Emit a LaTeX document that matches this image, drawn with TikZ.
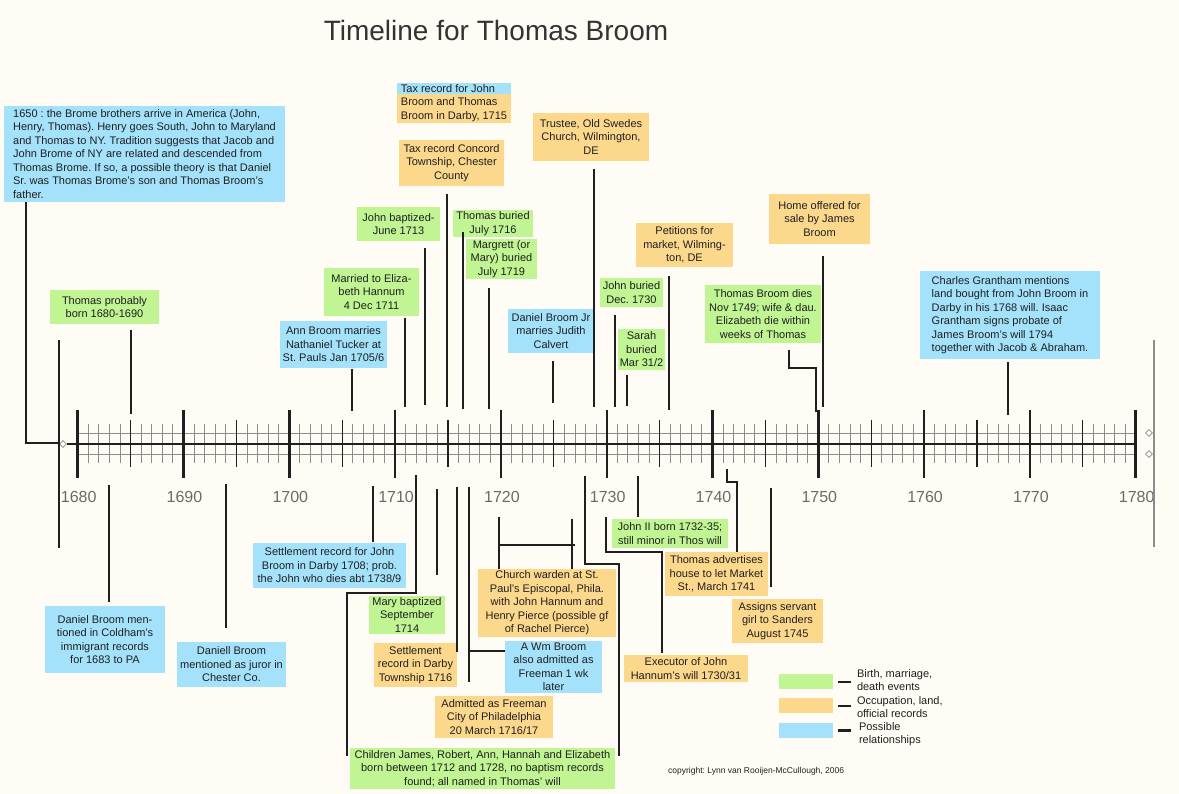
\documentclass[tikz,border=0pt]{standalone}
\usepackage{fontspec}
\setmainfont{Liberation Sans}
\usetikzlibrary{shapes.geometric}
\frenchspacing

\definecolor{pagebg}{HTML}{FEFCF4}
\definecolor{evgreen}{HTML}{C1F492}
\definecolor{evorange}{HTML}{FCD88D}
\definecolor{evblue}{HTML}{A4E2FB}
\definecolor{inkc}{HTML}{1F1F1F}
\definecolor{yearc}{HTML}{6A6A6A}
\definecolor{gridc}{HTML}{8C8C8C}
\definecolor{titlec}{HTML}{333333}

\newcommand{\evfont}{\fontsize{11}{13.5}\selectfont}

% event box from its two corners: name, style, x1, y1, x2, y2, text
\newcommand{\evbox}[7]{%
  \pgfmathsetmacro{\evw}{#5-#3}%
  \pgfmathsetmacro{\evh}{#6-#4}%
  \pgfmathsetmacro{\evx}{(#3+#5)/2}%
  \pgfmathsetmacro{\evy}{(#4+#6)/2}%
  \node[#2, minimum width=\evw pt, minimum height=\evh pt] (#1) at (\evx,\evy) {#7};%
}

\tikzset{
  ev/.style={inner sep=0pt, outer sep=0pt, align=center, text=inkc, font=\evfont},
  gbox/.style={ev, fill=evgreen},
  obox/.style={ev, fill=evorange},
  bbox/.style={ev, fill=evblue},
  link/.style={draw=inkc, line width=2pt},
  thinlink/.style={draw=inkc, line width=1.2pt},
  minortick/.style={draw=gridc, line width=0.9pt},
  midtick/.style={draw=inkc, line width=1.3pt},
  majtick/.style={draw=inkc, line width=2.4pt},
  endtick/.style={draw=inkc, line width=3pt},
  yearlbl/.style={text=yearc, font=\fontsize{16}{18}\selectfont, inner sep=0pt},
  knob/.style={diamond, draw=gridc, fill=white, line width=0.8pt, inner sep=0pt, minimum size=7pt},
}

\begin{document}
\begin{tikzpicture}[x=1pt,y=-1pt]
\useasboundingbox[fill=pagebg] (0,0) rectangle (1179,794);

% title
\node[font=\fontsize{28}{32}\selectfont, text=titlec] (title) at (496,30) {Timeline for Thomas Broom};

% ---------------- time axis ----------------
\draw[minortick] (78,433) -- (1136,433);
\draw[minortick] (78,454) -- (1136,454);
\foreach \i in {1,...,99}
  \draw[minortick] ({77.7+10.58*\i},424) -- ({77.7+10.58*\i},463);
\node[knob] (dL) at (63,444) {};
\coordinate (axR) at (1136,444);
\draw[draw=inkc, line width=1.3pt] (dL.east) -- (axR);
\foreach \i in {5,15,...,95}
  \draw[midtick] ({77.7+10.58*\i},420) -- ({77.7+10.58*\i},467);
\foreach \i in {10,20,...,90}
  \draw[majtick] ({77.7+10.58*\i},410) -- ({77.7+10.58*\i},478);
\draw[endtick] (77.7,410) -- (77.7,478);
\draw[endtick] (1135.7,410) -- (1135.7,478);
\foreach \yr in {1680,1690,...,1780}
  \node[yearlbl] (y\yr) at ({78.7+10.58*(\yr-1680)},497) {\yr};

% left and right end bars
\coordinate (lvTop) at (59,340);
\coordinate (lvBot) at (59,548);
\draw[link] (lvTop) -- (lvBot);
\coordinate (rvTop) at (1154,340);
\coordinate (rvBot) at (1154,547);
\draw[gridc, line width=1.2pt] (rvTop) -- (rvBot);
\node[knob] (dR1) at (1149,433) {};
\node[knob] (dR2) at (1149,454) {};

% ---------------- events above the axis ----------------
\evbox{origins}{bbox, align=left}{4}{106}{285}{202}{1650 : the Brome brothers arrive in America (John,\\Henry, Thomas). Henry goes South, John to Maryland\\and Thomas to NY. Tradition suggests that Jacob and\\John Brome of NY are related and descended from\\Thomas Brome. If so, a possible theory is that Daniel\\Sr. was Thomas Brome's son and Thomas Broom's\\father.}
\evbox{born}{gbox}{50}{290}{159}{324}{Thomas probably\\born 1680-1690}
\evbox{ann}{bbox}{280}{321}{387}{368}{Ann Broom marries\\Nathaniel Tucker at\\St. Pauls Jan 1705/6}
\evbox{married}{gbox}{324}{268}{419}{316}{Married to Eliza-\\beth Hannum\\4 Dec 1711}
\evbox{johnbap}{gbox}{357}{207}{440}{241}{John baptized-\\June 1713}
\evbox{concord}{obox}{399}{140}{504}{186}{Tax record Concord\\Township, Chester\\County}
\evbox{taxdarby}{obox, align=left, path picture={\fill[evblue] (path picture bounding box.north west) rectangle ([yshift=-11pt]path picture bounding box.north east);}}{397}{83}{511}{123}{Tax record for John\\Broom and Thomas\\Broom in Darby, 1715}
\evbox{tburied}{gbox}{453}{210}{533}{237}{Thomas buried\\July 1716}
\evbox{margrett}{gbox}{466}{239}{537}{279}{Margrett (or\\Mary) buried\\July 1719}
\evbox{danieljr}{bbox}{508}{309}{594}{353}{Daniel Broom Jr\\marries Judith\\Calvert}
\evbox{trustee}{obox}{533}{113}{649}{161}{Trustee, Old Swedes\\Church, Wilmington,\\DE}
\evbox{johnbur}{gbox}{600}{278}{663}{307}{John buried\\Dec. 1730}
\evbox{sarah}{gbox}{618}{329}{665}{370}{Sarah\\buried\\Mar 31/2}
\evbox{petitions}{obox}{636}{223}{733}{267}{Petitions for\\market, Wilming-\\ton, DE}
\evbox{tdies}{gbox}{705}{285}{821}{343}{Thomas Broom dies\\Nov 1749; wife \& dau.\\Elizabeth die within\\weeks of Thomas}
\evbox{home}{obox}{769}{194}{870}{244}{Home offered for\\sale by James\\Broom}
\evbox{charles}{bbox, align=left}{920}{271}{1100}{359}{Charles Grantham mentions\\land bought from John Broom in\\Darby in his 1768 will. Isaac\\Grantham signs probate of\\James Broom's will 1794\\together with Jacob \& Abraham.}

% ---------------- events below the axis ----------------
\evbox{coldham}{bbox}{45}{606}{165}{673}{Daniel Broom men-\\tioned in Coldham's\\immigrant records\\for 1683 to PA}
\evbox{juror}{bbox}{177}{642}{286}{687}{Daniell Broom\\mentioned as juror in\\Chester Co.}
\evbox{settle08}{bbox}{253}{543}{406}{588}{Settlement record for John\\Broom in Darby 1708; prob.\\the John who dies abt 1738/9}
\evbox{marybap}{gbox}{369}{596}{445}{634}{Mary baptized\\September\\1714}
\evbox{settle16}{obox}{374}{643}{457}{687}{Settlement\\record in Darby\\Township 1716}
\evbox{wm}{bbox}{505}{641}{602}{693}{A Wm Broom\\also admitted as\\Freeman 1 wk\\later}
\evbox{freeman}{obox}{435}{696}{553}{738}{Admitted as Freeman\\City of Philadelphia\\20 March 1716/17}
\evbox{children}{gbox}{350}{748}{615}{789}{Children James, Robert, Ann, Hannah and Elizabeth\\born between 1712 and 1728, no baptism records\\found; all named in Thomas' will}
\evbox{church}{obox}{478}{569}{616}{637}{Church warden at St.\\Paul's Episcopal, Phila.\\with John Hannum and\\Henry Pierce (possible gf\\of Rachel Pierce)}
\evbox{johnII}{gbox}{612}{519}{728}{548}{John II born 1732-35;\\still minor in Thos will}
\evbox{executor}{obox}{624}{655}{748}{682}{Executor of John\\Hannum's will 1730/31}
\evbox{advert}{obox}{665}{552}{768}{596}{Thomas advertises\\house to let Market\\St., March 1741}
\evbox{assigns}{obox}{732}{599}{823}{643}{Assigns servant\\girl to Sanders\\August 1745}

% ---------------- connectors above the axis ----------------
\coordinate (oJoin) at (59,443);
\coordinate (tBorn) at (131,414);
\coordinate (tAnn) at (352,411);
\coordinate (tMar) at (405,407);
\coordinate (tJbap) at (425,405);
\coordinate (tConc) at (447,407);
\coordinate (tTbur) at (463,409);
\coordinate (tMarg) at (489,409);
\coordinate (tDjr) at (553,403);
\coordinate (tTrus) at (594,407);
\coordinate (tJbur) at (615,407);
\coordinate (tSarah) at (627,406);
\coordinate (tPet) at (669,410);
\coordinate (tDiesK) at (816,368);
\coordinate (tDies) at (816,412);
\coordinate (tHome) at (823,407);
\coordinate (tChas) at (1008,415);

\draw[link] ([xshift=22pt]origins.south west) |- (oJoin);
\draw[link, shorten <=6pt] (born.south -| tBorn) -- (tBorn);
\draw[link, shorten <=1pt] (ann.south -| tAnn) -- (tAnn);
\draw[link, shorten <=2pt] (married.south -| tMar) -- (tMar);
\draw[link, shorten <=7pt] (johnbap.south -| tJbap) -- (tJbap);
\draw[link, shorten <=8pt] (concord.south -| tConc) -- (tConc);
\draw[link, shorten <=-5pt] (tburied.south -| tTbur) -- (tTbur);
\draw[link, shorten <=9pt] (margrett.south -| tMarg) -- (tMarg);
\draw[link, shorten <=8pt] (danieljr.south -| tDjr) -- (tDjr);
\draw[link, shorten <=8pt] (trustee.south -| tTrus) -- (tTrus);
\draw[link, shorten <=8pt] (johnbur.south -| tJbur) -- (tJbur);
\draw[link, shorten <=5pt] (sarah.south -| tSarah) -- (tSarah);
\draw[link, shorten <=9pt] (petitions.south -| tPet) -- (tPet);
\draw[link, shorten <=7pt] ([xshift=26pt]tdies.south) |- (tDiesK) -- (tDies);
\draw[link, shorten <=12pt] (home.south -| tHome) -- (tHome);
\draw[thinlink, shorten <=3pt] (charles.south -| tChas) -- (tChas);

% ---------------- connectors below the axis ----------------
\coordinate (bCold) at (109,485);
\coordinate (bJuror) at (226,484);
\coordinate (bSet08) at (373,486);
\coordinate (bKidL) at (416,475);
\coordinate (bKidLk) at (347,593);
\coordinate (bMary) at (437,489);
\coordinate (bSet16) at (457,487);
\coordinate (bFree) at (469,487);
\coordinate (bChL) at (499,517);
\coordinate (bChR) at (572,519);
\coordinate (bChBar) at (499,545);
\coordinate (bKidR) at (585,476);
\coordinate (bKidRk) at (619,564);
\coordinate (bExec) at (606,517);
\coordinate (bExecK) at (662,552);
\coordinate (bJII) at (638,476);
\coordinate (bAdv) at (727,469);
\coordinate (bAdvK) at (737,482);
\coordinate (bAsg) at (771,488);
\coordinate (wmTap) at ([yshift=16pt]wm.west);

\draw[link, shorten >=4pt] (bCold) -- (coldham.north -| bCold);
\draw[link, shorten >=14pt] (bJuror) -- (juror.north -| bJuror);
\draw[link, shorten >=1pt] (bSet08) -- (settle08.north -| bSet08);
\draw[link, shorten >=-8pt] (bKidL) |- (bKidLk) -- (bKidLk |- children.north);
\draw[link, shorten >=21pt] (bMary) -- (marybap.north -| bMary);
\draw[link] (bSet16) -- ([yshift=-9pt]settle16.north east);
\draw[link, shorten >=14pt] (bFree) -- (freeman.north -| bFree);
\draw[link] (wmTap) -- (wmTap -| bFree);
\draw[link] (bChL) -- (church.north -| bChL);
\draw[link] (bChR) -- (church.north -| bChR);
\draw[link] (bChBar) -- ++(76,0);
\draw[link, shorten >=-8pt] (bKidR) |- (bKidRk) -- (bKidRk |- children.north);
\draw[link, shorten >=2pt] (bExec) |- (bExecK) -- (bExecK |- executor.north);
\draw[link, shorten >=2pt] (bJII) -- (johnII.north -| bJII);
\draw[link] (bAdv) |- (bAdvK) -- (bAdvK |- advert.north);
\draw[link, shorten >=12pt] (bAsg) -- (assigns.north -| bAsg);

% ---------------- legend ----------------
\evbox{lgG}{gbox}{779}{674}{833}{689}{}
\evbox{lgO}{obox}{779}{698}{833}{713}{}
\evbox{lgB}{bbox}{779}{723}{833}{738}{}
\draw[link] ([xshift=5pt]lgG.east) -- ++(13,0);
\draw[link] ([xshift=5pt]lgO.east) -- ++(13,0);
\draw[link, line width=2.6pt] ([xshift=5pt]lgB.east) -- ++(13,0);
\node[ev, anchor=west, align=left] (lgGt) at (857,680) {Birth, marriage,\\death events};
\node[ev, anchor=west, align=left] (lgOt) at (857,707) {Occupation, land,\\official records};
\node[ev, anchor=west, align=left] (lgBt) at (859,734) {Possible\\relationships};

\node[anchor=west, inner sep=0pt, text=inkc, font=\fontsize{8.5}{10}\selectfont] (copy) at (668,771) {copyright: Lynn van Rooijen-McCullough, 2006};
\end{tikzpicture}
\end{document}
